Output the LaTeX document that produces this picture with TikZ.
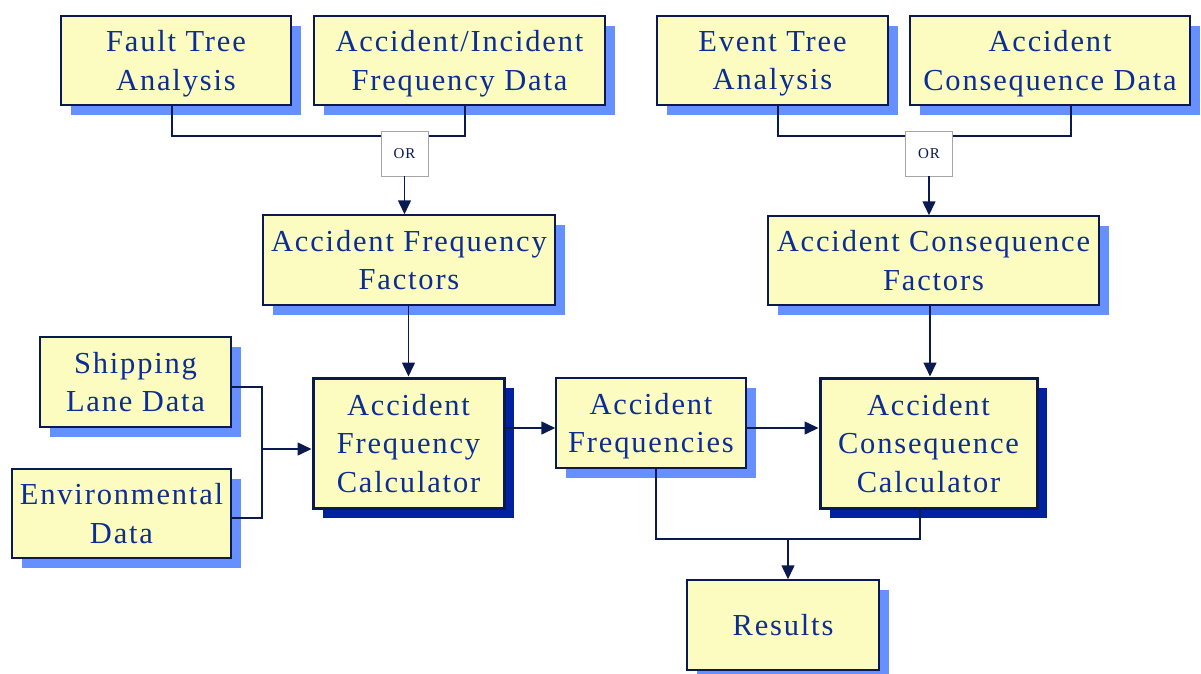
\documentclass[tikz,border=0pt]{standalone}
\usepackage{fontspec}
\setmainfont{Liberation Serif}[LetterSpace=6]
\usetikzlibrary{arrows.meta,shadows}
\definecolor{boxfill}{HTML}{FCFCC0}
\definecolor{txtblue}{HTML}{0B2D94}
\definecolor{navy}{HTML}{0A1A50}
\definecolor{lshadow}{HTML}{6690FF}
\definecolor{dshadow}{HTML}{0022A0}
\tikzset{
  box/.style={draw=navy, line width=1.5pt, fill=boxfill, text=txtblue, inner sep=0pt,
    align=center, font=\fontsize{30.5}{38.5}\selectfont, text depth=0pt,
    general shadow={shadow xshift=10pt, shadow yshift=-10pt, fill=lshadow}},
  calc/.style={box, line width=3pt,
    general shadow={shadow xshift=10pt, shadow yshift=-10pt, fill=dshadow}},
  orbox/.style={draw=gray!70, line width=0.8pt, fill=white, text=navy, inner sep=0pt,
    minimum width=47pt, minimum height=45pt, font=\fontsize{15}{17}\selectfont},
  conn/.style={draw=navy, line width=1.5pt},
  arr/.style={conn, -{Triangle[length=14pt,width=13pt]}},
}
\begin{document}
\begin{tikzpicture}[x=1pt,y=-1pt]
\useasboundingbox (0,0) rectangle (1201,673);
% top row
\node[box, minimum width=230pt, minimum height=89pt] (fta) at (176,60.5) {Fault Tree\\Analysis};
\node[box, minimum width=291pt, minimum height=89pt] (aifd) at (459.5,60.5) {Accident/Incident\\Frequency Data};
\node[box, minimum width=231pt, minimum height=89pt] (eta) at (772.5,60.5) {Event Tree\\Analysis};
\node[box, minimum width=280pt, minimum height=89pt] (acd) at (1050,60.5) {Accident\\Consequence Data};
% junction lines
\coordinate (jy) at (0,136);
\draw[conn] ([xshift=-4pt]fta.south) |- ([xshift=5.5pt]aifd.south |- jy) -- ([xshift=5.5pt]aifd.south);
\draw[conn] ([xshift=5.5pt]eta.south) |- ([xshift=21pt]acd.south |- jy) -- ([xshift=21pt]acd.south);
\node[orbox] (orL) at (404.5,153.5) {OR};
\node[orbox] (orR) at (929,153.5) {OR};
% factors
\node[box, minimum width=292pt, minimum height=90pt] (aff) at (409,260) {Accident Frequency\\Factors};
\node[box, minimum width=331pt, minimum height=89pt] (acf) at (933.5,260.5) {Accident Consequence\\Factors};
\draw[arr] (orL.south) -- (orL.south |- aff.north);
\draw[arr] (orR.south) -- (orR.south |- acf.north);
% left inputs
\node[box, minimum width=191pt, minimum height=90pt] (sld) at (135.5,382) {Shipping\\Lane Data};
\node[box, minimum width=219pt, minimum height=89pt] (env) at (121.5,513.5) {Environmental\\Data};
% calculators
\node[calc, minimum width=191pt, minimum height=130pt] (afc) at (408.5,443) {Accident\\Frequency\\Calculator};
\node[box, minimum width=190pt, minimum height=90pt] (af) at (651,423) {Accident\\Frequencies};
\node[calc, minimum width=217pt, minimum height=130pt] (acc) at (928.5,443) {Accident\\Consequence\\Calculator};
\node[box, minimum width=192pt, minimum height=90pt] (res) at (783,625) {Results};
% connectors
\coordinate (jx) at (262,0);
\coordinate (s1) at ([yshift=-5pt]sld.east);
\coordinate (e1) at ([yshift=-4.5pt]env.east);
\draw[conn] (s1) -| (jx |- e1) -- (e1);
\coordinate (c1) at ([yshift=-6pt]afc.west);
\draw[arr] (jx |- c1) -- (c1);
\draw[arr] (aff.south -| afc.north) -- (afc.north);
\coordinate (f1) at ([xshift=-3.5pt]acf.south);
\draw[arr] (f1) -- (f1 |- acc.north);
\coordinate (a1) at ([yshift=15pt]afc.east);
\draw[arr] (a1) -- (a1 -| af.west);
\coordinate (a2) at ([yshift=-5pt]af.east);
\draw[arr] (a2) -- (a2 -| acc.west);
\coordinate (ky) at (0,539);
\draw[conn] ([xshift=5pt]af.south) |- ([xshift=-8.5pt]acc.south |- ky) -- ([xshift=-8.5pt]acc.south);
\coordinate (r1) at ([xshift=5pt]res.north);
\draw[arr] (r1 |- ky) -- (r1);
\end{tikzpicture}
\end{document}
